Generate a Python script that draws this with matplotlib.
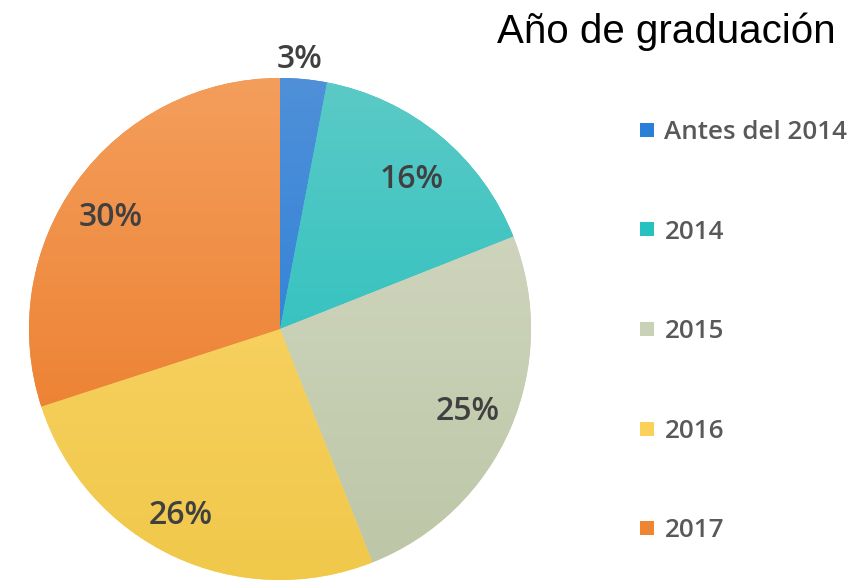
import matplotlib
matplotlib.use('Agg')
import matplotlib.pyplot as plt
import numpy as np
from matplotlib.colors import LinearSegmentedColormap
from matplotlib.lines import Line2D

title = "Año de graduación"
categories = ["Antes del 2014", "2014", "2015", "2016", "2017"]
values = [3, 16, 25, 26, 30]
labels = ["3%", "16%", "25%", "26%", "30%"]
colors = ["#2a80d8", "#27c2bf", "#cad2b6", "#fcd15a", "#ef8530"]
top_colors = ["#4f90d8", "#5ccac6", "#d6dbc6", "#fdd872", "#f49e5c"]
bottom_colors = ["#1c78d8", "#12bcbc", "#bcc6a6", "#f0c84a", "#e97520"]
label_dist = [1.077, 0.793, 0.816, 0.842, 0.808]
label_ang_off = [1.2, -1.7, -0.35, -2.9, 2.66]

W, H = 857, 581
fig = plt.figure(figsize=(W / 100, H / 100), dpi=100)
cx, cy, r = 280, 329, 251
ax = fig.add_axes([(cx - r) / W, (H - cy - r) / H, 2 * r / W, 2 * r / H])
wedges, _ = ax.pie(values, colors=colors, startangle=90, counterclock=False,
                   radius=1, wedgeprops=dict(linewidth=0))
grad = np.linspace(1, 0, 256).reshape(-1, 1)
for w, tc, bc in zip(wedges, top_colors, bottom_colors):
    cmap = LinearSegmentedColormap.from_list("g", [bc, tc])
    im = ax.imshow(grad, extent=(-1, 1, -1, 1), cmap=cmap, aspect='auto',
                   origin='upper', zorder=w.get_zorder() + 0.5)
    im.set_clip_path(w)

lab_font = dict(family='Open Sans', weight='semibold', size=23, color='#404040')
for w, lab, d, off in zip(wedges, labels, label_dist, label_ang_off):
    ang = np.deg2rad((w.theta1 + w.theta2) / 2 + off)
    ax.text(d * np.cos(ang), d * np.sin(ang), lab, ha='center', va='center',
            zorder=10, **lab_font)
ax.set_xlim(-1, 1)
ax.set_ylim(-1, 1)
ax.set_aspect('auto')
ax.axis('off')

fig.text(497 / W, 1 - 32 / H, title, ha='left', va='center',
         family='Liberation Sans', size=29, color='black')

handles = [Line2D([], [], marker='s', linestyle='', markersize=9.5,
                  markerfacecolor=c, markeredgewidth=0) for c in colors]
fig.legend(handles, categories, loc='upper left',
           bbox_to_anchor=(641 / W, 1 - 120 / H), frameon=False,
           handlelength=0.5, handletextpad=0.4, labelspacing=2.87,
           borderpad=0, borderaxespad=0,
           prop=dict(family='Open Sans', weight='semibold', size=18.7),
           labelcolor='#595959')

fig.savefig('out.png', dpi=100)
